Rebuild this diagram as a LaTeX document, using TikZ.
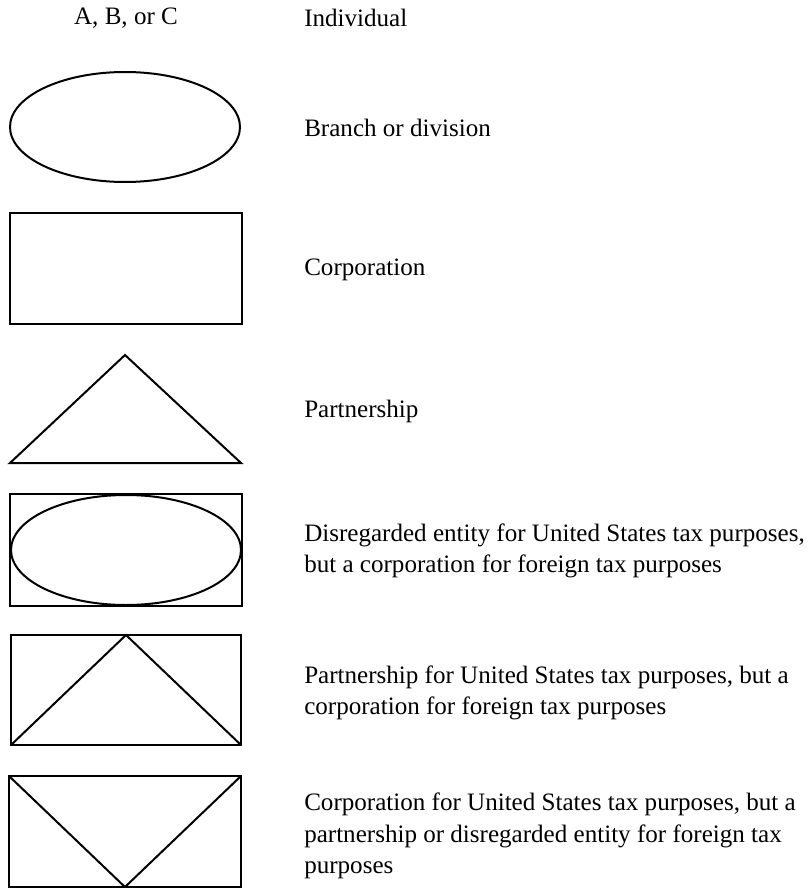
\documentclass[tikz,border=0pt]{standalone}
\usepackage{fontspec}
\setmainfont{Liberation Serif}
\usetikzlibrary{shapes.geometric}

\begin{document}
\begin{tikzpicture}[x=0.75pt, y=-0.75pt,
    outline/.style={line width=1.5pt, line join=miter},
    lbl/.style={anchor=west, inner sep=0pt, align=left,
        font=\fontsize{18.8}{23.5}\selectfont}]
    \useasboundingbox (0,0) rectangle (807,888);

    % header row
    \node[lbl, anchor=center] (head) at (126,18) {A, B, or C};
    \node[lbl] (indiv) at (304,18) {Individual};

    % branch
    \draw[outline] (125,127) ellipse [x radius=115, y radius=55];
    \node[lbl] (branch) at (304,128) {Branch or division};

    % corporation
    \draw[outline] (10,213) rectangle (242,324);
    \node[lbl] (corp) at (304,270) {Corporation};

    % partnership
    \draw[outline] (10,463) -- (125,355) -- (241,463) -- cycle;
    \node[lbl] (part) at (304,411) {Partnership};

    % hybrids
    \draw[outline] (10,494) rectangle (242,606);
    \draw[outline] (126,550) ellipse [x radius=115, y radius=55];
    \node[lbl] (disreg) at (304,551) {Disregarded entity for United States tax purposes,\\
        but a corporation for foreign tax purposes};

    \draw[outline] (11,635) rectangle (241,745);
    \draw[outline] (11,745) -- (126,635) -- (241,745);
    \node[lbl] (partcorp) at (304,693) {Partnership for United States tax purposes, but a\\
        corporation for foreign tax purposes};

    \draw[outline] (9,776) rectangle (241,887);
    \draw[outline] (9,776) -- (125,887) -- (241,776);
    \node[lbl] (corppart) at (304,836) {Corporation for United States tax purposes, but a\\
        partnership or disregarded entity for foreign tax\\
        purposes};
\end{tikzpicture}
\end{document}
